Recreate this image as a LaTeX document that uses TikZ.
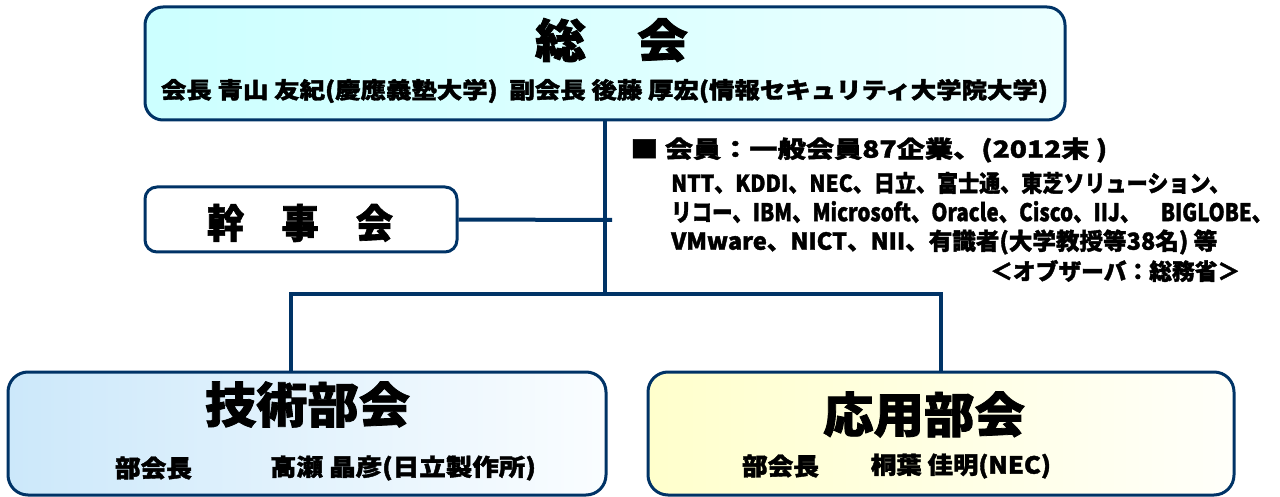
\documentclass[tikz,border=0pt]{standalone}
\usepackage{fontspec}
\setmainfont{Noto Sans CJK JP}[BoldFeatures={FakeBold=1.6}]
\usepackage{graphicx}
\definecolor{navy}{HTML}{003366}
\definecolor{topL}{HTML}{CCFFFF}
\definecolor{topR}{HTML}{ECFFFF}
\definecolor{blueL}{HTML}{CCE8FA}
\definecolor{blueR}{HTML}{FAFDFF}
\definecolor{yelL}{HTML}{FFFFCC}
\definecolor{yelR}{HTML}{FFFFFA}
\newcommand\fitt[3]{\resizebox*{#1pt}{#2pt}{\bfseries #3}}
\tikzset{
  orgbox/.style={draw=navy, line width=3pt, inner sep=0pt},
  conn/.style={draw=navy, line width=4pt},
  txt/.style={inner sep=0pt, text=black},
}
\begin{document}
\begin{tikzpicture}[x=1pt,y=-1pt]
\useasboundingbox (0,0) rectangle (1280,497);
% boxes
\node[orgbox, rounded corners=18pt, left color=topL, right color=topR,
      minimum width=920pt, minimum height=113pt] (soukai) at (605,63.5) {};
\node[orgbox, rounded corners=12pt, fill=white,
      minimum width=312pt, minimum height=65pt] (kanji) at (301,219.5) {};
\node[orgbox, rounded corners=20pt, left color=blueL, right color=blueR,
      minimum width=598pt, minimum height=123pt] (gijutsu) at (307,433.5) {};
\node[orgbox, rounded corners=20pt, left color=yelL, right color=yelR,
      minimum width=586pt, minimum height=123pt] (ouyou) at (941,433.5) {};
% connectors
\coordinate (j) at (605,294);
\coordinate (jl) at (291,294);
\coordinate (jr) at (941,294);
\coordinate (ke) at (612,220);
\draw[conn] (soukai.south) -- (j);
\draw[conn] (kanji.east) -- (ke);
\draw[conn] (gijutsu.north -| jl) -- (jl) -- (jr) -- (ouyou.north);
% texts
\node[txt] (t1) at (611.5,40) {\fitt{153}{44}{総　会}};
\node[txt] (t2) at (604.5,91) {\fitt{887}{24}{会長 青山 友紀(慶應義塾大学)\ \ 副会長 後藤 厚宏(情報セキュリティ大学院大学)}};
\node[txt] (t3) at (300,223) {\fitt{186}{38}{幹　事　会}};
\node[txt] (t4) at (307.5,404.5) {\fitt{205}{46}{技術部会}};
\node[txt] (t5) at (924,414.5) {\fitt{202}{46}{応用部会}};
\node[txt] (t6) at (153.5,468) {\fitt{77}{23}{部会長}};
\node[txt] (t7) at (403,468) {\fitt{266}{25}{高瀬 晶彦(日立製作所)}};
\node[txt] (t8) at (780.5,466) {\fitt{77}{23}{部会長}};
\node[txt] (t9) at (961,466) {\fitt{180}{25}{桐葉 佳明(NEC)}};
% members
\node[txt, anchor=west] (m1) at (630,150) {\fitt{477}{25}{■ 会員：一般会員87企業、(2012末 )}};
\node[txt, anchor=west] (m2) at (671,183) {\fitt{559}{22}{NTT、KDDI、NEC、日立、富士通、東芝ソリューション、}};
\node[txt, anchor=west] (m3) at (671,212) {\fitt{601}{22}{リコー、IBM、Microsoft、Oracle、Cisco、IIJ、　BIGLOBE、}};
\node[txt, anchor=west] (m4) at (671,242) {\fitt{546}{25}{VMware、NICT、NII、有識者(大学教授等38名) 等}};
\node[txt, anchor=west] (m5) at (990,271) {\fitt{250}{22}{＜オブザーバ：総務省＞}};
\end{tikzpicture}
\end{document}
